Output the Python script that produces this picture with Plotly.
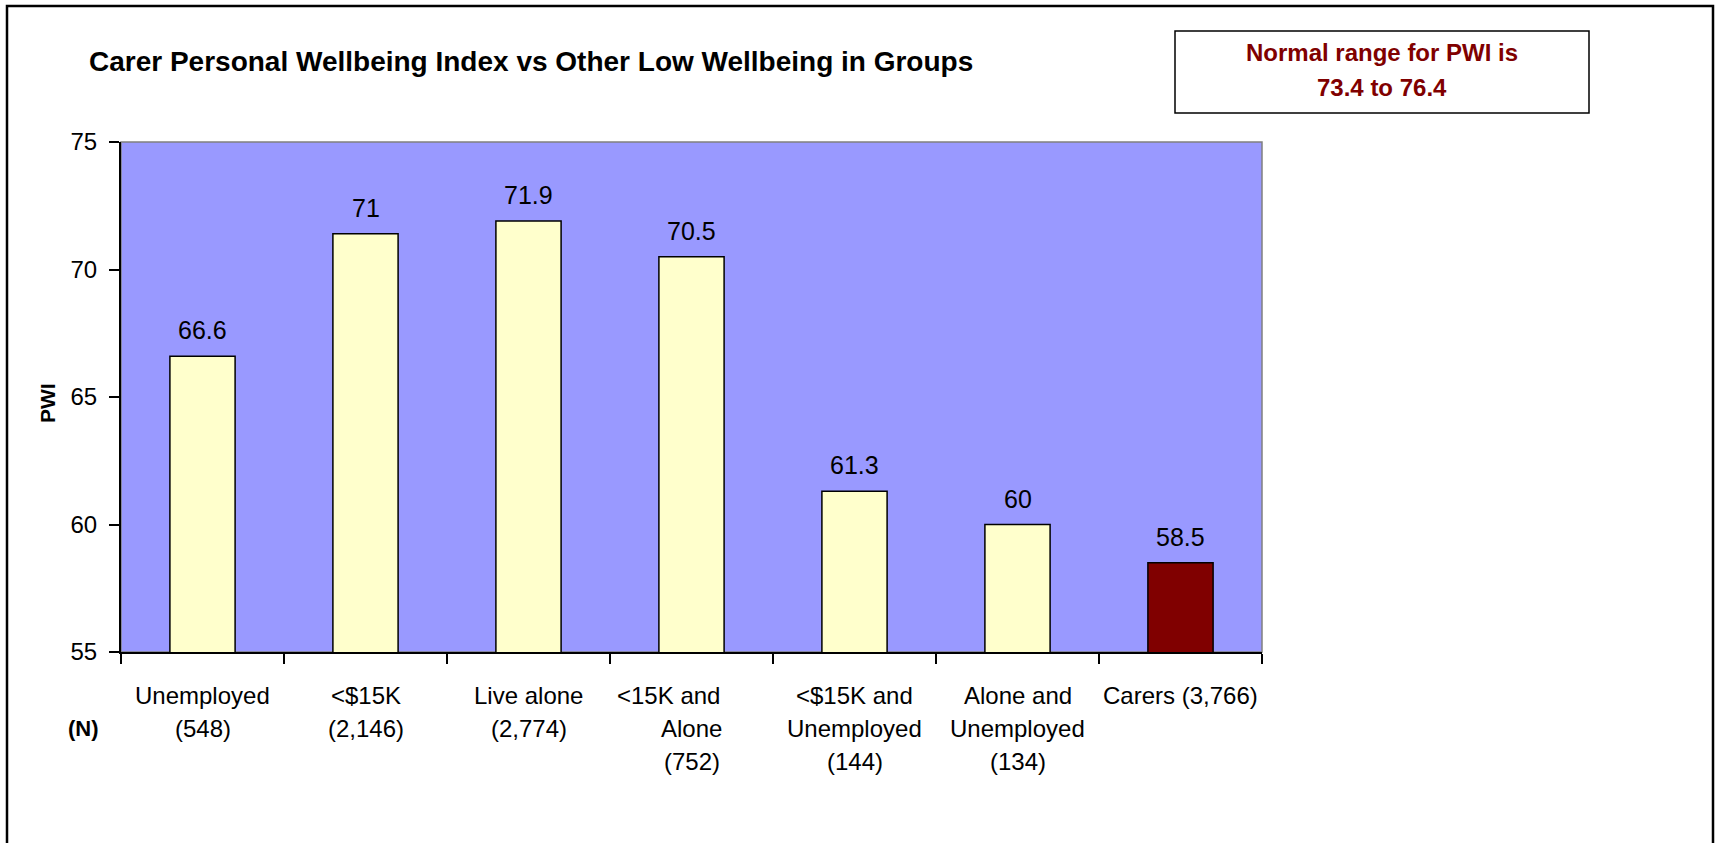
import plotly.graph_objects as go

categories = ["Unemployed", "<$15K", "Live alone", "<15K and Alone",
              "<$15K and Unemployed", "Alone and Unemployed", "Carers"]
label_lines = [
    ["Unemployed", "(548)"],
    ["<$15K", "(2,146)"],
    ["Live alone", "(2,774)"],
    ["<15K and", "Alone", "(752)"],
    ["<$15K and", "Unemployed", "(144)"],
    ["Alone and", "Unemployed", "(134)"],
    ["Carers (3,766)"],
]
pwi_values = [66.6, 71.4, 71.9, 70.5, 61.3, 60.0, 58.5]
value_labels = ["66.6", "71", "71.9", "70.5", "61.3", "60", "58.5"]
y_ticks = [55, 60, 65, 70, 75]

title_text = "Carer Personal Wellbeing Index vs Other Low Wellbeing in Groups"
note_lines = ["Normal range for PWI is", "73.4 to 76.4"]

W, H = 1715, 843
L, R, T, B = 121, 453, 142, 191
pw, ph = W - L - R, H - T - B

def px_x(p):
    return (p - L) / pw

def px_y(p):
    return (H - B - p) / ph

FONT = "Liberation Sans, Arial, sans-serif"
bar_colors = ["#FFFFCC"] * 6 + ["#800000"]

fig = go.Figure()
fig.add_trace(go.Bar(
    x=categories, y=pwi_values,
    marker=dict(color=bar_colors, line=dict(color="black", width=1.5)),
    hoverinfo="skip",
))

annotations = []
# data labels
for c, v, t in zip(categories, pwi_values, value_labels):
    annotations.append(dict(x=c, y=v, xref="x", yref="y", text=t, showarrow=False,
                            yanchor="middle", yshift=26,
                            font=dict(family=FONT, size=25, color="black")))
# category labels
line_xshift = {(3, 0): -23}
for i, (c, lines) in enumerate(zip(categories, label_lines)):
    for j, ln in enumerate(lines):
        annotations.append(dict(x=c, y=0, xref="x", yref="paper", text=ln, showarrow=False,
                                xanchor="center", yanchor="middle", yshift=-43 - 33 * j,
                                xshift=line_xshift.get((i, j), 0),
                                font=dict(family=FONT, size=24, color="black")))
# (N)
annotations.append(dict(x=px_x(83), y=0, xref="paper", yref="paper", text="<b>(N)</b>",
                        showarrow=False, xanchor="center", yanchor="middle", yshift=-76,
                        font=dict(family=FONT, size=22, color="black")))
# title
annotations.append(dict(x=px_x(87), y=px_y(62), xref="paper", yref="paper",
                        text="<b>" + title_text + "</b>", showarrow=False,
                        xanchor="left", yanchor="middle",
                        font=dict(family=FONT, size=28, color="black")))
# PWI axis title
annotations.append(dict(x=px_x(47), y=px_y(403), xref="paper", yref="paper",
                        text="<b>PWI</b>", showarrow=False, textangle=-90,
                        xanchor="center", yanchor="middle",
                        font=dict(family=FONT, size=21, color="black")))
# note box text
for k, ln in enumerate(note_lines):
    annotations.append(dict(x=px_x(1382), y=px_y(52.5 + 35 * k), xref="paper", yref="paper",
                            text="<b>" + ln + "</b>", showarrow=False,
                            xanchor="center", yanchor="middle",
                            font=dict(family=FONT, size=24, color="#800000")))

shapes = [
    # plot area background with grey border
    dict(type="rect", xref="paper", yref="paper", x0=0, x1=1, y0=0, y1=1,
         fillcolor="#9999FF", line=dict(color="#808080", width=1.5), layer="below"),
    # outer frame
    dict(type="rect", xref="paper", yref="paper",
         x0=px_x(7), x1=px_x(1713), y0=px_y(6), y1=px_y(900),
         line=dict(color="black", width=2.5), fillcolor="rgba(0,0,0,0)", layer="above"),
    # note box
    dict(type="rect", xref="paper", yref="paper",
         x0=px_x(1175), x1=px_x(1589), y0=px_y(31), y1=px_y(113),
         line=dict(color="black", width=1.5), fillcolor="white", layer="below"),
]

fig.update_layout(
    width=W, height=H,
    margin=dict(l=L, r=R, t=T, b=B, pad=0),
    paper_bgcolor="white", plot_bgcolor="rgba(0,0,0,0)",
    bargap=0.6, showlegend=False,
    font=dict(family=FONT, color="black"),
    annotations=annotations, shapes=shapes,
)
fig.update_xaxes(type="category", range=[-0.5, 6.5], showgrid=False,
                 showline=True, linecolor="black", linewidth=2,
                 ticks="outside", tickson="boundaries", ticklen=10, tickwidth=1.5,
                 tickcolor="black", showticklabels=False, zeroline=False)
fig.update_yaxes(range=[55, 75], tickvals=y_ticks, showgrid=False, zeroline=False,
                 showline=True, linecolor="black", linewidth=2,
                 ticks="outside", ticklen=10, tickwidth=1.5, tickcolor="black",
                 ticklabelstandoff=7,
                 tickfont=dict(family=FONT, size=24, color="black"))

fig.write_html("out.html", config={"displayModeBar": False},
               post_script="document.body.style.margin='0px';document.body.style.overflow='hidden';")
